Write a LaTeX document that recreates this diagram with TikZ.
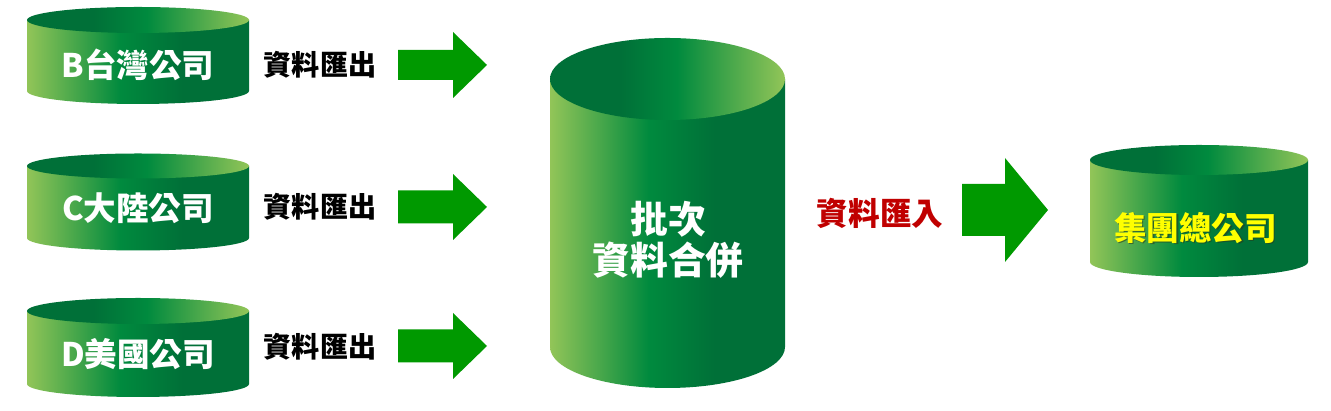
\documentclass[tikz,border=0pt]{standalone}
\usepackage{fontspec}
\setmainfont{Noto Sans CJK TC}
\definecolor{gl}{RGB}{146,197,88}
\definecolor{gm}{RGB}{0,138,62}
\definecolor{gd}{RGB}{0,112,56}
\definecolor{arrowgreen}{RGB}{0,153,0}
\definecolor{importred}{RGB}{192,0,0}
\definecolor{hqyellow}{RGB}{255,255,0}
\definecolor{shadowgray}{RGB}{40,60,30}
\pgfdeclarehorizontalshading{bodyshade}{100bp}{color(0bp)=(gl); color(25bp)=(gl); color(46bp)=(gm); color(60bp)=(gd); color(100bp)=(gd)}
\pgfdeclarehorizontalshading{topshade}{100bp}{color(0bp)=(gd); color(25bp)=(gd); color(40bp)=(gd); color(52bp)=(gm); color(75bp)=(gl); color(100bp)=(gl)}
\newcommand{\drawcyl}[5]{% cx, rx, top cy, bottom cy, ry (pixel coordinates, y downward)
  \pgfmathsetmacro\cyT{411-#3}
  \pgfmathsetmacro\cyB{411-#4}
  \pgfmathsetmacro\cxL{#1-#2}
  \pgfmathsetmacro\cxR{#1+#2}
  \path[shading=bodyshade] (\cxL,\cyT) -- (\cxL,\cyB) arc[start angle=180,end angle=360,x radius=#2,y radius=#5] -- (\cxR,\cyT) -- cycle;
  \path[shading=topshade] (#1,\cyT) ellipse[x radius=#2,y radius=#5];
}
\newcommand{\blockarrow}[6]{% x start, x head base, x tip, y centre, shaft half, head half (y downward)
  \pgfmathsetmacro\ay{411-#4}
  \fill[arrowgreen] (#1,\ay+#5) -- (#2,\ay+#5) -- (#2,\ay+#6) -- (#3,\ay) -- (#2,\ay-#6) -- (#2,\ay-#5) -- (#1,\ay-#5) -- cycle;
}
\tikzset{
  cyltext/.style={text=white, font=\bfseries\fontsize{18.5}{22}\selectfont, inner sep=0pt},
  exportlabel/.style={text=black, font=\bfseries\fontsize{16}{19}\selectfont, inner sep=0pt},
  importlabel/.style={text=importred, font=\bfseries\fontsize{18}{21}\selectfont, inner sep=0pt},
  bigtext/.style={text=white, font=\bfseries\fontsize{21.5}{25}\selectfont, inner sep=0pt, align=center},
  hqtext/.style={font=\bfseries\fontsize{18.5}{22}\selectfont, inner sep=0pt}
}
\begin{document}
\begin{tikzpicture}[x=0.02cm,y=0.02cm]
\useasboundingbox (0,0) rectangle (1331,411);
\fill[white] (0,0) rectangle (1331,411);

% source cylinders
\drawcyl{138}{111}{20}{91}{13}
\drawcyl{138}{111}{166}{238}{12.5}
\drawcyl{138}{111}{311}{384}{13}
% central cylinder
\drawcyl{667.5}{117.5}{79}{347}{41}
% target cylinder
\drawcyl{1199}{109}{160}{262}{15}

% texts in cylinders
\node[cyltext] (b) at (138,{411-65}) {B台灣公司};
\node[cyltext] (c) at (138,{411-208}) {C大陸公司};
\node[cyltext] (d) at (138,{411-354}) {D美國公司};
\node[bigtext] (merge) at (668,{411-240}) {批次\\[-2pt]資料合併};
\node[hqtext, text=shadowgray, opacity=0.6] (hqshadow) at (1197,{411-229.5}) {集團總公司};
\node[hqtext, text=hqyellow] (hq) at (1195.5,{411-228}) {集團總公司};

% labels
\node[exportlabel] (lb) at (320,{411-65}) {資料匯出};
\node[exportlabel] (lc) at (320,{411-207}) {資料匯出};
\node[exportlabel] (ld) at (320,{411-347}) {資料匯出};
\node[importlabel] (li) at (880,{411-213}) {資料匯入};

% block arrows
\blockarrow{398}{453}{487}{65}{15}{33}
\blockarrow{398}{453}{487}{207}{16.5}{33}
\blockarrow{398}{453}{487}{346}{16.5}{33}
\blockarrow{962}{1005}{1048}{210}{26}{52}
\end{tikzpicture}
\end{document}
